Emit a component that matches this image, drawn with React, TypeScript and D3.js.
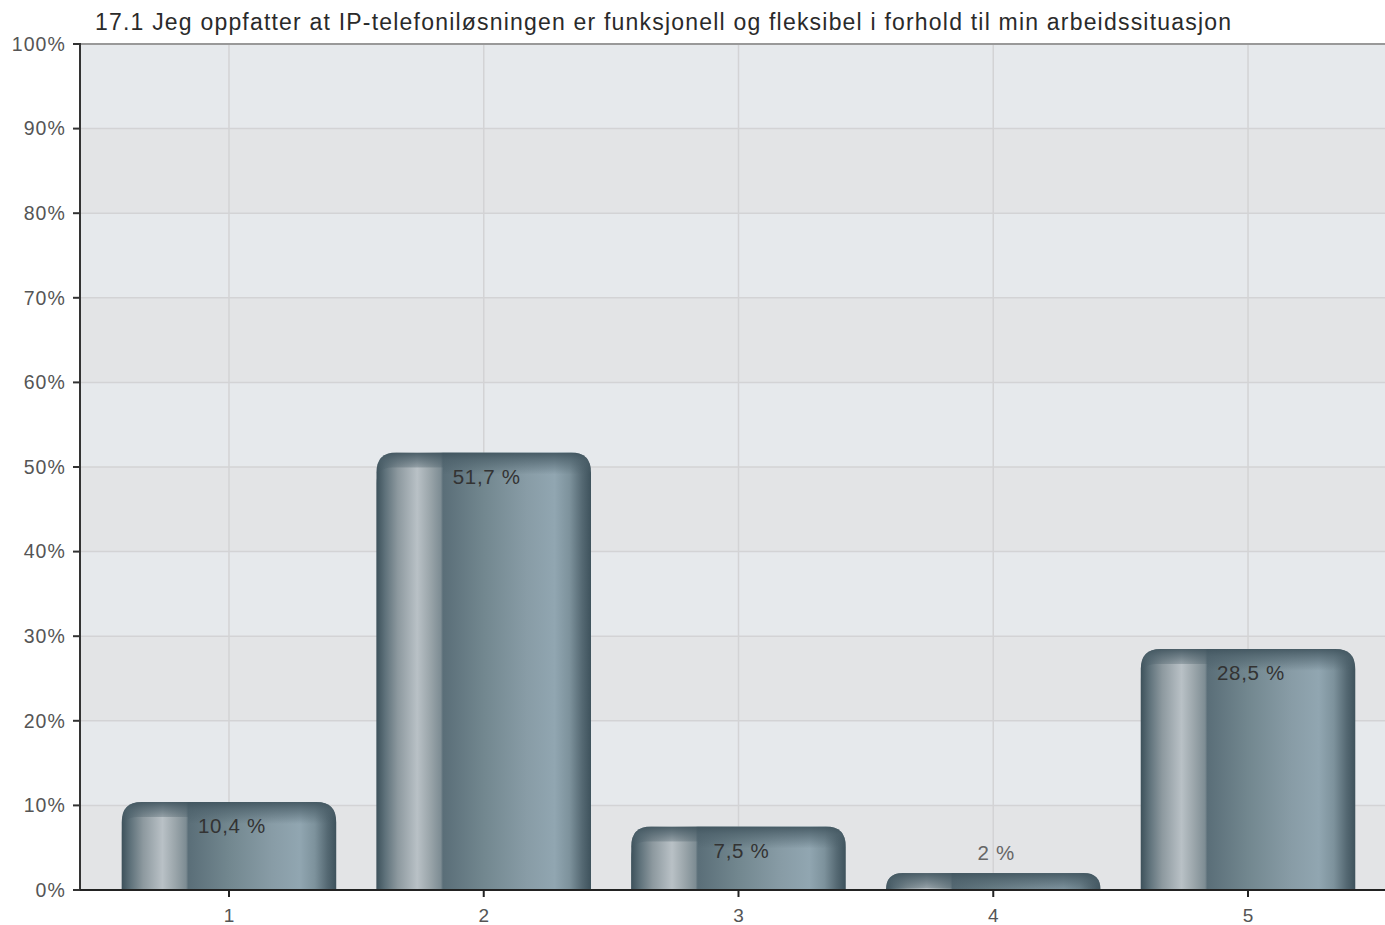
import React from "react";
import * as d3 from "d3";

const TITLE = "17.1 Jeg oppfatter at IP-telefoniløsningen er funksjonell og fleksibel i forhold til min arbeidssituasjon";
const categories = ["1", "2", "3", "4", "5"];
const values = [10.4, 51.7, 7.5, 2, 28.5];
const valueLabels = ["10,4 %", "51,7 %", "7,5 %", "2 %", "28,5 %"];
const yTicks = [0, 10, 20, 30, 40, 50, 60, 70, 80, 90, 100];

const W = 1385;
const H = 925;
const PL = 80;
const PR = 1385;
const PT = 44;
const PB = 890;

const mainStops: [number, string][] = [
  [0, "#3d515b"],
  [0.04, "#5e717a"],
  [0.1, "#8d999f"],
  [0.19, "#b9c1c6"],
  [0.25, "#9aa5aa"],
  [0.3, "#7d8c93"],
  [0.31, "#5a6e78"],
  [0.5, "#72878f"],
  [0.7, "#889ca6"],
  [0.83, "#91a6b1"],
  [0.9, "#7d929c"],
  [0.96, "#546872"],
  [1, "#3e525c"],
];
const SPLIT = 0.31;

function topRounded(x: number, y: number, w: number, h: number, r: number) {
  const rr = Math.max(0, Math.min(r, h, w / 2));
  const p = d3.path();
  p.moveTo(x, y + h);
  p.lineTo(x, y + rr);
  p.quadraticCurveTo(x, y, x + rr, y);
  p.lineTo(x + w - rr, y);
  p.quadraticCurveTo(x + w, y, x + w, y + rr);
  p.lineTo(x + w, y + h);
  p.closePath();
  return p.toString();
}

function leftRounded(x: number, y: number, w: number, h: number, r: number) {
  const rr = Math.max(0, Math.min(r, h, w));
  const p = d3.path();
  p.moveTo(x, y + h);
  p.lineTo(x, y + rr);
  p.quadraticCurveTo(x, y, x + rr, y);
  p.lineTo(x + w, y);
  p.lineTo(x + w, y + h);
  p.closePath();
  return p.toString();
}

export default function App() {
  const x = d3.scaleBand<string>().domain(categories).range([101.6, 1375.4]).paddingInner(0.158).paddingOuter(0.079);
  const y = d3.scaleLinear().domain([0, 100]).range([PB, PT]);
  const centers = categories.map((c) => (x(c) as number) + x.bandwidth() / 2);

  const leftStops = mainStops.filter((s) => s[0] <= SPLIT).map((s) => [s[0] / SPLIT, s[1]] as [number, string]);

  return (
    <svg width={W} height={H} style={{ position: "absolute", left: 0, top: 0, background: "#fff" }} fontFamily="'Liberation Sans', Arial, Helvetica, sans-serif">
      <defs>
        <linearGradient id="gMain" x1="0" y1="0" x2="1" y2="0">
          {mainStops.map((s, i) => (
            <stop key={i} offset={s[0]} stopColor={s[1]} />
          ))}
        </linearGradient>
        <linearGradient id="gLeft" x1="0" y1="0" x2="1" y2="0">
          {leftStops.map((s, i) => (
            <stop key={i} offset={s[0]} stopColor={s[1]} />
          ))}
        </linearGradient>
        <linearGradient id="gTop" x1="0" y1="0" x2="0" y2="1">
          <stop offset="0" stopColor="#3f535d" stopOpacity={0.9} />
          <stop offset="0.35" stopColor="#4a5e68" stopOpacity={0.65} />
          <stop offset="1" stopColor="#4a5e68" stopOpacity={0} />
        </linearGradient>
        {values.map((v, i) => {
          const bx = x(categories[i]) as number;
          const bw = x.bandwidth();
          const by = y(v);
          const bh = PB - by;
          return (
            <clipPath id={`clip${i}`} key={i}>
              <path d={topRounded(bx, by, bw, bh, 20)} />
            </clipPath>
          );
        })}
      </defs>

      {/* plot background bands */}
      {yTicks.slice(0, -1).map((t, i) => (
        <rect key={t} x={PL} y={y(t + 10)} width={PR - PL} height={y(t) - y(t + 10)} fill={i % 2 === 1 ? "#e6e9ec" : "#e3e4e6"} />
      ))}
      {/* grid lines */}
      {yTicks.slice(1, -1).map((t) => (
        <line key={t} x1={PL} x2={PR} y1={y(t)} y2={y(t)} stroke="#d3d3d5" strokeWidth={1.5} />
      ))}
      {centers.map((c, i) => (
        <line key={i} x1={c} x2={c} y1={PT} y2={PB} stroke="#d3d3d5" strokeWidth={1.5} />
      ))}
      {/* top border */}
      <line x1={PL} x2={PR} y1={PT} y2={PT} stroke="#999" strokeWidth={2} />

      {/* bars */}
      {values.map((v, i) => {
        const bx = x(categories[i]) as number;
        const bw = x.bandwidth();
        const by = y(v);
        const bh = PB - by;
        const innerTop = Math.min(by + 15, PB);
        return (
          <g key={i}>
            <path d={topRounded(bx, by, bw, bh, 20)} fill="url(#gMain)" />
            <g clipPath={`url(#clip${i})`}>
              <rect x={bx} y={by} width={bw} height={22} fill="url(#gTop)" />
              <path d={leftRounded(bx, innerTop, bw * SPLIT, PB - innerTop, 16)} fill="url(#gLeft)" />
            </g>
          </g>
        );
      })}

      {/* value labels */}
      {values.map((v, i) => {
        const by = y(v);
        const bh = PB - by;
        const inside = bh > 40;
        return (
          <text
            key={i}
            x={centers[i] + 3}
            y={inside ? by + 31 : by - 13}
            textAnchor="middle"
            fontSize={20.5}
            letterSpacing={0.7}
            fill={inside ? "#333" : "#666"}
          >
            {valueLabels[i]}
          </text>
        );
      })}

      {/* y axis */}
      <line x1={PL} x2={PL} y1={PT - 1} y2={PB + 1} stroke="#333" strokeWidth={2} />
      {yTicks.map((t) => (
        <g key={t}>
          <line x1={PL - 7} x2={PL} y1={y(t)} y2={y(t)} stroke="#333" strokeWidth={2} />
          <text x={66} y={y(t)} dy="0.35em" textAnchor="end" fontSize={19.5} letterSpacing={1.1} fill="#555">
            {t}%
          </text>
        </g>
      ))}

      {/* x axis */}
      <line x1={PL} x2={PR} y1={PB} y2={PB} stroke="#222" strokeWidth={2} />
      {categories.map((c, i) => (
        <g key={c}>
          <line x1={centers[i]} x2={centers[i]} y1={PB} y2={PB + 7} stroke="#222" strokeWidth={2} />
          <text x={centers[i]} y={922} textAnchor="middle" fontSize={19} fill="#555">
            {c}
          </text>
        </g>
      ))}

      {/* title */}
      <text x={95} y={30} fontSize={23} fill="#2a2a2a" textLength={1136} lengthAdjust="spacing">
        {TITLE}
      </text>
    </svg>
  );
}
